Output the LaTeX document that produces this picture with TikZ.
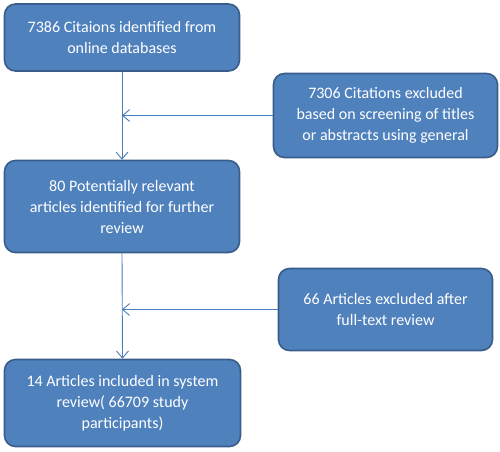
\documentclass[tikz,border=0pt]{standalone}
\usepackage{fontspec}
\setmainfont{Carlito}
\usetikzlibrary{arrows.meta}
\definecolor{boxfill}{HTML}{4F81BD}
\definecolor{boxline}{HTML}{385D8A}
\definecolor{arrowcol}{HTML}{4A7EBB}
\begin{document}
\begin{tikzpicture}[x=1pt,y=-1pt,
  flowbox/.style={draw=boxline, line width=1.6pt, fill=boxfill, rounded corners=11pt,
    text=white, align=center, inner sep=0pt,
    font=\fontsize{16}{21}\selectfont},
  flowarrow/.style={draw=arrowcol, line width=0.9pt, -{Straight Barb[length=7pt,width=12pt,line width=0.9pt]}}]
\useasboundingbox (0,0) rectangle (500,451);
\node[flowbox, minimum width=235pt, minimum height=67pt] (b1) at (122,37.5)
  {7386 Citaions identified from\\online databases};
\node[flowbox, minimum width=235pt, minimum height=92pt] (b2) at (122,206.5)
  {80 Potentially relevant\\articles identified for further\\review};
\node[flowbox, minimum width=224pt, minimum height=84pt] (b3) at (385.5,115.5)
  {7306 Citations excluded\\based on screening of titles\\or abstracts using general};
\node[flowbox, minimum width=214pt, minimum height=82pt] (b4) at (385.5,309.5)
  {66 Articles excluded after\\full-text review};
\node[flowbox, minimum width=236pt, minimum height=87pt] (b5) at (122.5,403)
  {14 Articles included in system\\review( 66709 study\\participants)};
\coordinate (j1) at (122,115.5);
\coordinate (j2) at (122,309.5);
\draw[flowarrow] (b1.south) -- (b2.north);
\draw[flowarrow] (b3.west) -- (j1);
\draw[flowarrow] (b2.south) -- (b5.north);
\draw[flowarrow] (b4.west) -- (j2);
\end{tikzpicture}
\end{document}
